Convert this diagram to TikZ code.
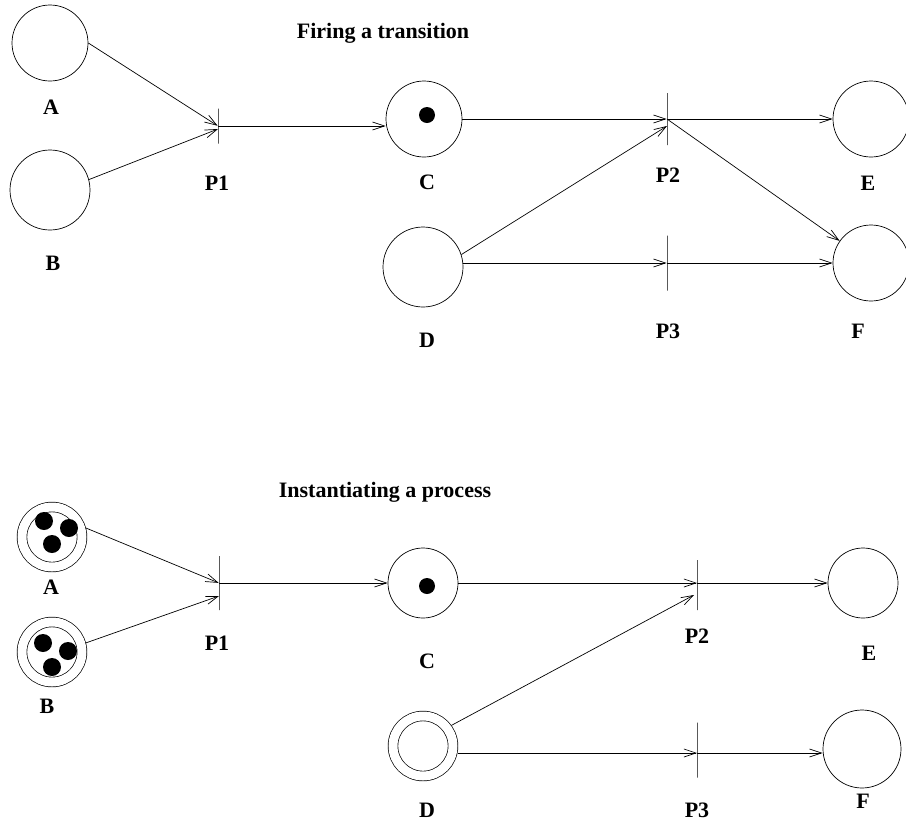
\documentclass[tikz,border=0pt]{standalone}
\usepackage{fontspec}
\setmainfont{Liberation Serif}
\usepackage{tikz}
\usetikzlibrary{arrows.meta,calc}

\tikzset{
  place/.style={circle, draw, line width=0.7pt, inner sep=0pt, minimum size=76pt},
  busy/.style={place, double, double distance=9pt, minimum size=60pt, outer sep=5pt},
  trans/.style={rectangle, draw, line width=0.7pt, inner sep=0pt, minimum width=0pt},
  arc/.style={line width=0.7pt, -{Straight Barb[length=12pt,width=8pt]}},
  lbl/.style={font=\bfseries\fontsize{22}{24}\selectfont, anchor=base, inner sep=0pt},
  token/.style={fill=black}
}

\begin{document}
\begin{tikzpicture}[x=1pt, y=-1pt]
    \useasboundingbox (0,0) rectangle (906,831);

    % ---- Firing a transition ----
    \node[lbl] (ftitle) at (383,38) {Firing a transition};

    % Places
    \node[place] (fA) at (50,43) {};
    \node[place, minimum size=80pt] (fB) at (50,190) {};
    \node[place] (fC) at (424,119) {};
    \node[place, minimum size=80pt] (fD) at (423,267) {};
    \node[place] (fE) at (871,119) {};
    \node[place] (fF) at (871,263) {};
    \fill[token] ($(fC)+(3,-4)$) circle (8pt);

    % Transitions
    \node[trans, minimum height=35pt] (fP1) at (218,126) {};
    \node[trans, minimum height=52pt] (fP2) at (667,119) {};
    \node[trans, minimum height=55pt] (fP3) at (667,263) {};

    % Arcs
    \draw[arc] (fA.east) -- (fP1);
    \draw[arc] (fB.15) -- ($(fP1)+(0,3)$);
    \draw[arc] (fP1) -- (fP1 -| fC.west);
    \draw[arc] (fC) -- (fP2);
    \draw[arc] (fD.18) -- ($(fP2)+(0,7)$);
    \draw[arc] (fP3 -| fD.east) -- (fP3);
    \draw[arc] (fP2) -- (fE);
    \draw[arc] (fP2) -- (fF);
    \draw[arc] (fP3) -- (fF);

    % Labels
    \foreach \n/\x/\y in {A/51/114, B/53/270, P1/217/190, C/427/189, D/427/347,
                          P2/668/182, P3/668/338, E/868/190, F/858/338} {
        \node[lbl] (fl\n) at (\x,\y) {\n};
    }

    % ---- Instantiating a process ----
    \node[lbl] (ititle) at (385,497) {Instantiating a process};

    % Places
    \node[busy] (iA) at (52,537) {};
    \node[busy] (iB) at (52,652) {};
    \node[place, minimum size=70pt] (iC) at (423,583) {};
    \node[busy] (iD) at (423,746) {};
    \node[place, minimum size=70pt] (iE) at (863,583) {};
    \node[place, minimum size=78pt] (iF) at (862,749) {};

    % Tokens
    \foreach \dx/\dy in {-8/-16, 17/-9, 0/7} {
        \fill[token] ($(iA)+(\dx,\dy)$) circle (9pt);
    }
    \foreach \dx/\dy in {-9/-9, 16/-1, 0/15} {
        \fill[token] ($(iB)+(\dx,\dy)$) circle (9pt);
    }
    \fill[token] ($(iC)+(4,3)$) circle (8pt);

    % Transitions
    \node[trans, minimum height=54pt] (iP1) at (219,583) {};
    \node[trans, minimum height=50pt] (iP2) at (697,585) {};
    \node[trans, minimum height=55pt] (iP3) at (697,750) {};

    % Arcs
    \draw[arc] (iA.15) -- (iP1);
    \draw[arc] (iB.15) -- ($(iP1)+(0,13)$);
    \draw[arc] (iP1) -- (iC);
    \draw[arc] (iC) -- (iC -| iP2);
    \draw[arc] (iD.36) -- ($(iP2)+(-3,10)$);
    \draw[arc] (iD.east |- 0,753) -- (iP3 |- 0,753);
    \draw[arc] (iC -| iP2) -- (iE);
    \draw[arc] (iP3 |- 0,753) -- (iF.west |- 0,753);

    % Labels
    \foreach \n/\x/\y in {A/51/594, B/47/713, P1/217/650, C/427/668, D/427/817,
                          P2/697/643, P3/697/817, E/869/660, F/863/808} {
        \node[lbl] (il\n) at (\x,\y) {\n};
    }
\end{tikzpicture}
\end{document}
